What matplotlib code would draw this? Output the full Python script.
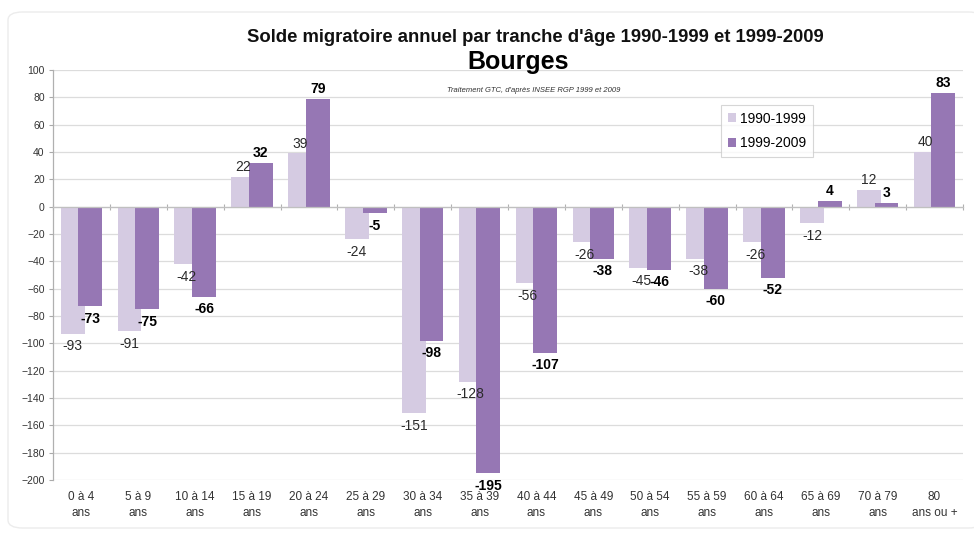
import matplotlib
matplotlib.use("Agg")
import matplotlib.pyplot as plt
import numpy as np
from matplotlib.patches import FancyBboxPatch

plt.rcParams["font.family"] = ["Liberation Sans", "DejaVu Sans"]

categories = ["0 à 4\nans", "5 à 9\nans", "10 à 14\nans", "15 à 19\nans",
              "20 à 24\nans", "25 à 29\nans", "30 à 34\nans", "35 à 39\nans",
              "40 à 44\nans", "45 à 49\nans", "50 à 54\nans", "55 à 59\nans",
              "60 à 64\nans", "65 à 69\nans", "70 à 79\nans", "80\nans ou +"]
solde_1990_1999 = [-93, -91, -42, 22, 39, -24, -151, -128, -56, -26, -45, -38, -26, -12, 12, 40]
solde_1999_2009 = [-73, -75, -66, 32, 79, -5, -98, -195, -107, -38, -46, -60, -52, 4, 3, 83]
series_names = ["1990-1999", "1999-2009"]
yticks = list(range(-200, 101, 20))

light = "#d5cbe2"
dark = "#9677b4"

fig = plt.figure(figsize=(9.74, 5.34), dpi=100)
fig.patch.set_facecolor("white")

# faint rounded frame around the chart
frame = FancyBboxPatch((8 / 974, 6 / 534), 975 / 974, 516 / 534,
                       boxstyle="round,pad=0,rounding_size=0.015",
                       transform=fig.transFigure, facecolor="white",
                       edgecolor="#ececec", linewidth=1.0, zorder=-10)
fig.patches.append(frame)

ax = fig.add_axes([53 / 974, 1 - 480 / 534, 910 / 974, 410 / 534])
ax.set_facecolor("none")

x = np.arange(len(categories))
w = 0.42
off = 0.155
b1 = ax.bar(x - off, solde_1990_1999, w, color=light, zorder=2, label=series_names[0])
b2 = ax.bar(x + off, solde_1999_2009, w, color=dark, zorder=3, label=series_names[1])

ax.set_xlim(-0.5, len(categories) - 0.5)
ax.set_ylim(-200, 100)
ax.set_yticks(yticks)
ax.tick_params(axis="y", labelsize=7.5, colors="#333333", length=3, width=0.8,
               color="#aaaaaa", pad=3)
ax.grid(axis="y", color="#dcdcdc", linewidth=0.9, zorder=0)
ax.set_axisbelow(True)

for s in ["top", "right"]:
    ax.spines[s].set_visible(False)
ax.spines["left"].set_color("#b0b0b0")
ax.spines["left"].set_linewidth(0.9)
ax.spines["bottom"].set_position(("data", 0))
ax.spines["bottom"].set_color("#c0c0c0")
ax.spines["bottom"].set_linewidth(0.9)
ax.spines["bottom"].set_zorder(4)

# category boundary ticks on the zero line
ax.set_xticks(np.arange(-0.5, len(categories), 1.0))
ax.set_xticklabels([])
ax.tick_params(axis="x", direction="inout", length=5, width=0.8, color="#b0b0b0")

# category labels at the bottom of the plot area
sec = ax.secondary_xaxis("bottom")
sec.set_xticks(x)
sec.set_xticklabels(categories, fontsize=8.5, color="#333333", linespacing=1.45)
sec.tick_params(length=0, pad=8)
sec.spines["bottom"].set_visible(False)

def put_labels(bars, values, weight, color):
    for b, v in zip(bars, values):
        cx = b.get_x() + b.get_width() / 2
        if v >= 0:
            ax.annotate(f"{v}", (cx, v), xytext=(0, 2), textcoords="offset points",
                        ha="center", va="bottom", fontsize=10, fontweight=weight,
                        color=color, zorder=5)
        else:
            ax.annotate(f"{v}", (cx, v), xytext=(0, -4), textcoords="offset points",
                        ha="center", va="top", fontsize=10, fontweight=weight,
                        color=color, zorder=5)

put_labels(b1, solde_1990_1999, "normal", "#2a2a2a")
put_labels(b2, solde_1999_2009, "bold", "#000000")

leg = ax.legend(loc="upper left", bbox_to_anchor=(0.734, 0.915), fontsize=10,
                frameon=True, fancybox=False, edgecolor="#cccccc",
                handlelength=0.6, handleheight=0.6, handletextpad=0.3,
                labelspacing=0.75, borderpad=0.5, borderaxespad=0)
leg.get_frame().set_linewidth(0.8)

fig.text(535 / 974, 1 - 38 / 534, "Solde migratoire annuel par tranche d'âge 1990-1999 et 1999-2009",
         ha="center", va="center", fontsize=13.3, fontweight="bold", color="#111111")
fig.text(518 / 974, 1 - 62 / 534, "Bourges", ha="center", va="center",
         fontsize=18, fontweight="bold", color="#000000")
fig.text(534 / 974, 1 - 90 / 534, "Traitement GTC, d'après INSEE RGP 1999 et 2009",
         ha="center", va="center", fontsize=5.5, style="italic", color="#333333")

fig.savefig("out.png", dpi=100)
